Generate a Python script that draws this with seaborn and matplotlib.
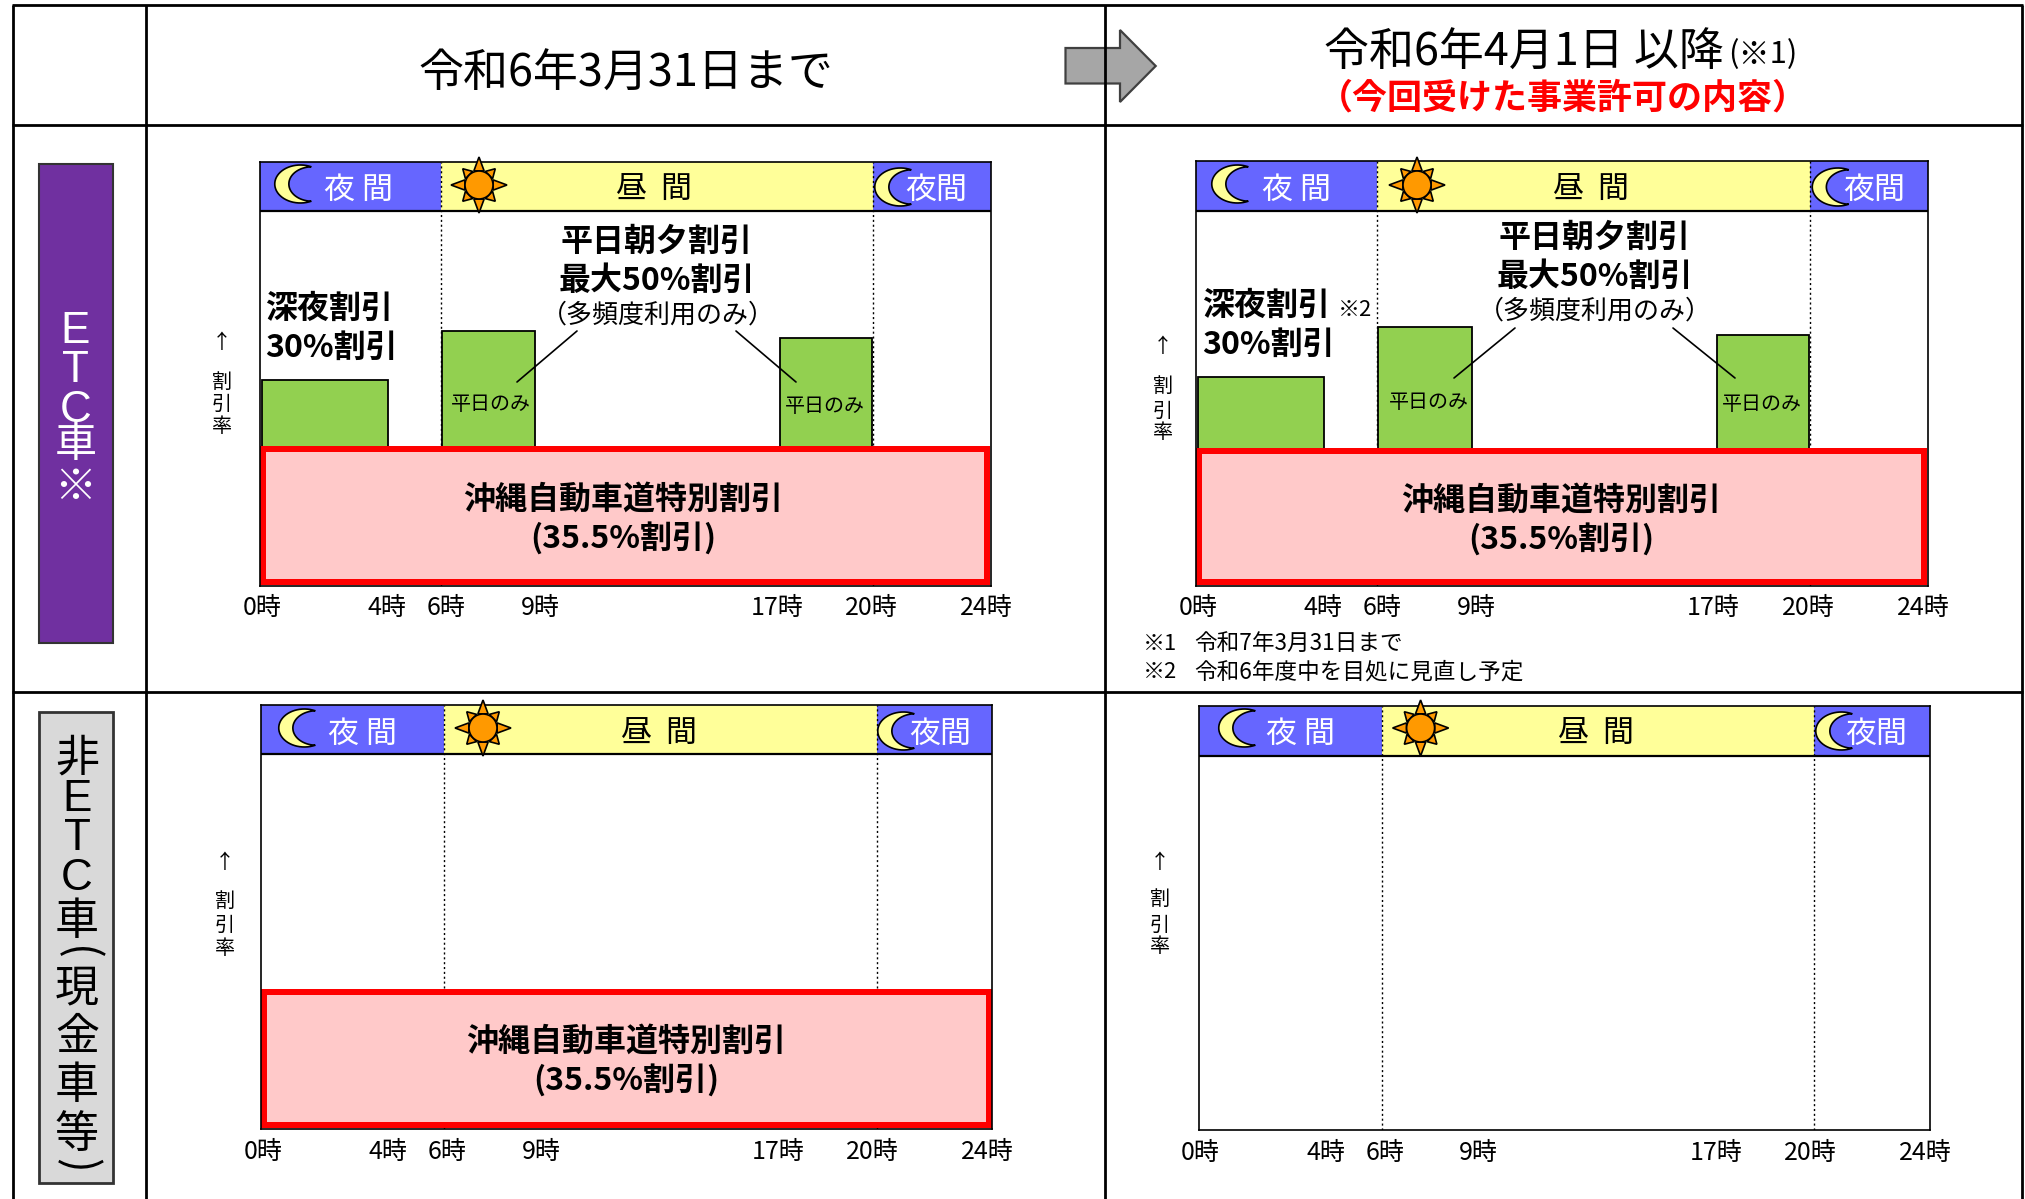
import numpy as np
import matplotlib
matplotlib.use("Agg")
import matplotlib.pyplot as plt
from matplotlib.patches import Polygon, Rectangle, Circle
import seaborn as sns

sns.set_style("white")
plt.rcParams['font.family'] = ['Noto Sans CJK JP', 'DejaVu Sans']

W, H = 2025, 1199

# ------------------------------
# Data
# ------------------------------
hour_labels = ["0時", "4時", "6時", "9時", "17時", "20時", "24時"]
hour_ticks = [0.07, 4.17, 6.12, 9.2, 16.98, 20.08, 23.85]

band_colors = ["#6666FF", "#FFFF99", "#6666FF"]
band_bottom = 99.3
top_row_edges = [5.95, 20.13]
bottom_row_edges = [6.02, 20.22]

green_start = [0.05, 5.98, 17.1]
green_end = [4.2, 9.05, 20.1]
green_left = [54.0, 67.2, 65.3]   # 令和6年3月31日まで
green_right = [54.8, 68.2, 66.1]  # 令和6年4月1日以降

special_left = 35.5
special_right = 35.0
ymin, ymax = -1.1, 112.6

# pixel frames of the four panels: left, right, top, bottom
frame_tl = [260, 990.5, 161.6, 585.7]
frame_tr = [1196, 1927.5, 161, 585.7]
frame_bl = [261, 992, 704.7, 1129]
frame_br = [1198.5, 1929.5, 706, 1130]


def px2pt(p):
    return p * 0.72


fig = plt.figure(figsize=(W / 100, H / 100), dpi=100, facecolor="white")


def draw_panel(frame, edges, green_top, special):
    l, r, t, b = frame
    ax = fig.add_axes([l / W, 1 - b / H, (r - l) / W, (b - t) / H])
    # top band
    starts = [0] + edges
    ends = edges + [24]
    for s, e, c in zip(starts, ends, band_colors):
        ax.fill_between([s, e], band_bottom, ymax, color=c, lw=0, zorder=1)
    ax.axhline(band_bottom, color="black", lw=1.6, zorder=3)
    for h in edges:
        ax.axvline(h, color="black", lw=1, ls=(0, (1.5, 2)), zorder=2)
    # green bars
    if green_top is not None:
        for s, e, top in zip(green_start, green_end, green_top):
            sns.histplot(x=[(s + e) / 2], weights=[top], bins=[s, e], color="#92D050",
                         edgecolor="black", linewidth=1.3, alpha=1, ax=ax, zorder=4)
    # pink box
    if special is not None:
        sns.histplot(x=[12], weights=[special], bins=[0.1, 23.9], color="#FFC9C9",
                     edgecolor="#FF0000", linewidth=px2pt(6), alpha=1, ax=ax, zorder=5)
    ax.set_xlim(0, 24)
    ax.set_ylim(ymin, ymax)
    ax.set_xticks(hour_ticks, hour_labels)
    ax.set_yticks([])
    ax.set(xlabel="", ylabel="")
    ax.tick_params(axis="x", length=0, pad=7, labelsize=px2pt(25), labelcolor="black")
    ax.grid(False)
    for sp in ax.spines.values():
        sp.set_color("black")
        sp.set_linewidth(1.2)
        sp.set_zorder(6)
    return ax


draw_panel(frame_tl, top_row_edges, green_left, special_left)
draw_panel(frame_tr, top_row_edges, green_right, special_right)
draw_panel(frame_bl, bottom_row_edges, None, special_left)
draw_panel(frame_br, bottom_row_edges, None, None)

# ------------------------------
# Overlay in pixel coordinates
# ------------------------------
ov = fig.add_axes([0, 0, 1, 1], facecolor="none", zorder=10)
ov.set_xlim(0, W)
ov.set_ylim(H, 0)
ov.axis("off")


def txt(x, y, s, size, weight="normal", color="black", ha="center", **kw):
    ov.text(x, y + 3, s, fontsize=px2pt(size), fontweight=weight, color=color,
            ha=ha, va="center", **kw)


def moon(cx, cy, r=19):
    a = np.radians(np.linspace(65, 295, 40))
    b = np.radians(np.linspace(268, 92, 40))
    xs = np.r_[r * np.cos(a), r * (0.456 + 0.906 * np.cos(b))] * 1.35 + 7.4
    ys = np.r_[r * np.sin(a), r * 0.906 * np.sin(b)]
    ov.add_patch(Polygon(np.c_[cx + xs, cy + ys], closed=True, fc="#FFFF99", ec="black", lw=1.2))


def sun(cx, cy):
    for i in range(8):
        ang = np.radians(45 * i)
        tip = 28 if i % 2 == 0 else 23
        base = 15
        half = np.radians(20)
        pts = [(cx + tip * np.cos(ang), cy + tip * np.sin(ang)),
               (cx + base * np.cos(ang + half), cy + base * np.sin(ang + half)),
               (cx + base * np.cos(ang - half), cy + base * np.sin(ang - half))]
        ov.add_patch(Polygon(pts, closed=True, fc="#FF9900", ec="black", lw=1.2))
    ov.add_patch(Circle((cx, cy), 14, fc="#FF9900", ec="black", lw=1.2))


# table lines
for x in [12.6, 146, 1104.7, 2022]:
    ov.plot([x, x], [5, 1199], color="black", lw=2, solid_capstyle="butt")
for y in [5.4, 125, 692]:
    ov.plot([12, 2023], [y, y], color="black", lw=2, solid_capstyle="butt")

# header
txt(626, 71, "令和6年3月31日まで", 45)
txt(1524, 50, "令和6年4月1日 以降", 45)
txt(1763, 52, "(※1)", 31)
txt(1563, 95, "（今回受けた事業許可の内容）", 35, weight="bold", color="#FF0000")

# block arrow
arrow = [(1065.5, 48), (1120, 48), (1120, 30), (1155.7, 66), (1120, 102), (1120, 83.5), (1065.5, 83.5)]
ov.add_patch(Polygon(arrow, closed=True, fc="#A6A6A6", ec="#404040", lw=1.6))

# row labels, stacked in groups
side_family = ['Liberation Sans', 'Noto Sans CJK JP']
ov.add_patch(Rectangle((38.6, 164), 74.4, 479, fc="#7030A0", ec="#333333", lw=1.5))
txt(75.5, 368, "E\nT\nC", 44, color="white", linespacing=0.95, family=side_family)
txt(75.5, 464, "車\n※", 42, color="white", linespacing=1.0)

ov.add_patch(Rectangle((39, 712), 74, 471, fc="#D9D9D9", ec="#333333", lw=2))
txt(77, 755, "非", 44)
txt(77, 836, "E\nT\nC", 44, linespacing=0.95, family=side_family)
txt(77, 918, "車", 44)
txt(77, 950, "(", 44, rotation=-90)
txt(77, 1058, "現\n金\n車\n等", 44, linespacing=1.075)
txt(77, 1162, ")", 44, rotation=-90)

# band labels and icons
for labels, sunx, moonx in [
    ([359, 654.5, 936.5], 479, [293, 893]),
    ([1297, 1591, 1874], 1417, [1230, 1830.5]),
]:
    txt(labels[0], 187, "夜 間", 31, color="white")
    txt(labels[1], 187, "昼  間", 31)
    txt(labels[2], 187, "夜間", 31, color="white")
    sun(sunx, 185)
    moon(moonx[0], 184)
    moon(moonx[1], 187)
for labels, sunx, moonx in [
    ([362.7, 659, 940], 483, [297, 896]),
    ([1300.5, 1596, 1876.6], 1420.6, [1237, 1834]),
]:
    txt(labels[0], 731, "夜 間", 31, color="white")
    txt(labels[1], 731, "昼  間", 31)
    txt(labels[2], 731, "夜間", 31, color="white")
    sun(sunx, 728)
    moon(moonx[0], 728)
    moon(moonx[1], 731)

# axis captions
for x, ys in [(222, [339, 379, 401, 423]), (1163, [344, 383, 408, 430]),
              (224.5, [859, 898, 922, 945]), (1160, [860, 896, 922, 944])]:
    for ch, y in zip(["↑", "割", "引", "率"], ys):
        txt(x, y, ch, 20)

# annotations, left panel
txt(657, 239, "平日朝夕割引", 32, weight="bold")
txt(657, 278, "最大50%割引", 32, weight="bold")
txt(658, 312, "（多頻度利用のみ）", 26)
txt(265, 306, "深夜割引", 32, weight="bold", ha="left")
txt(265, 345, "30%割引", 32, weight="bold", ha="left")
txt(491, 402, "平日のみ", 20)
txt(825, 403, "平日のみ", 20)
ov.plot([577, 517], [331, 382], color="black", lw=1.2)
ov.plot([736, 796], [331, 382], color="black", lw=1.2)
txt(623, 497, "沖縄自動車道特別割引", 32, weight="bold")
txt(623, 535, "(35.5%割引)", 32, weight="bold")

# annotations, right panel
txt(1595, 235, "平日朝夕割引", 32, weight="bold")
txt(1595, 274, "最大50%割引", 32, weight="bold")
txt(1595, 308, "（多頻度利用のみ）", 26)
txt(1202, 303, "深夜割引", 32, weight="bold", ha="left")
txt(1202, 342, "30%割引", 32, weight="bold", ha="left")
txt(1355, 307, "※2", 22)
txt(1429.4, 399, "平日のみ", 20)
txt(1762, 401, "平日のみ", 20)
ov.plot([1515, 1454], [328, 378], color="black", lw=1.2)
ov.plot([1673, 1735], [328, 378], color="black", lw=1.2)
txt(1561, 498, "沖縄自動車道特別割引", 32, weight="bold")
txt(1561, 536, "(35.5%割引)", 32, weight="bold")

# footnotes
txt(1143, 641, "※1", 22, ha="left")
txt(1194, 641, "令和7年3月31日まで", 22.6, ha="left")
txt(1143, 669, "※2", 22, ha="left")
txt(1194, 669, "令和6年度中を目処に見直し予定", 22.6, ha="left")

# bottom-left pink text
txt(626, 1039, "沖縄自動車道特別割引", 32, weight="bold")
txt(626, 1077, "(35.5%割引)", 32, weight="bold")

fig.savefig("out.png", dpi=100)
